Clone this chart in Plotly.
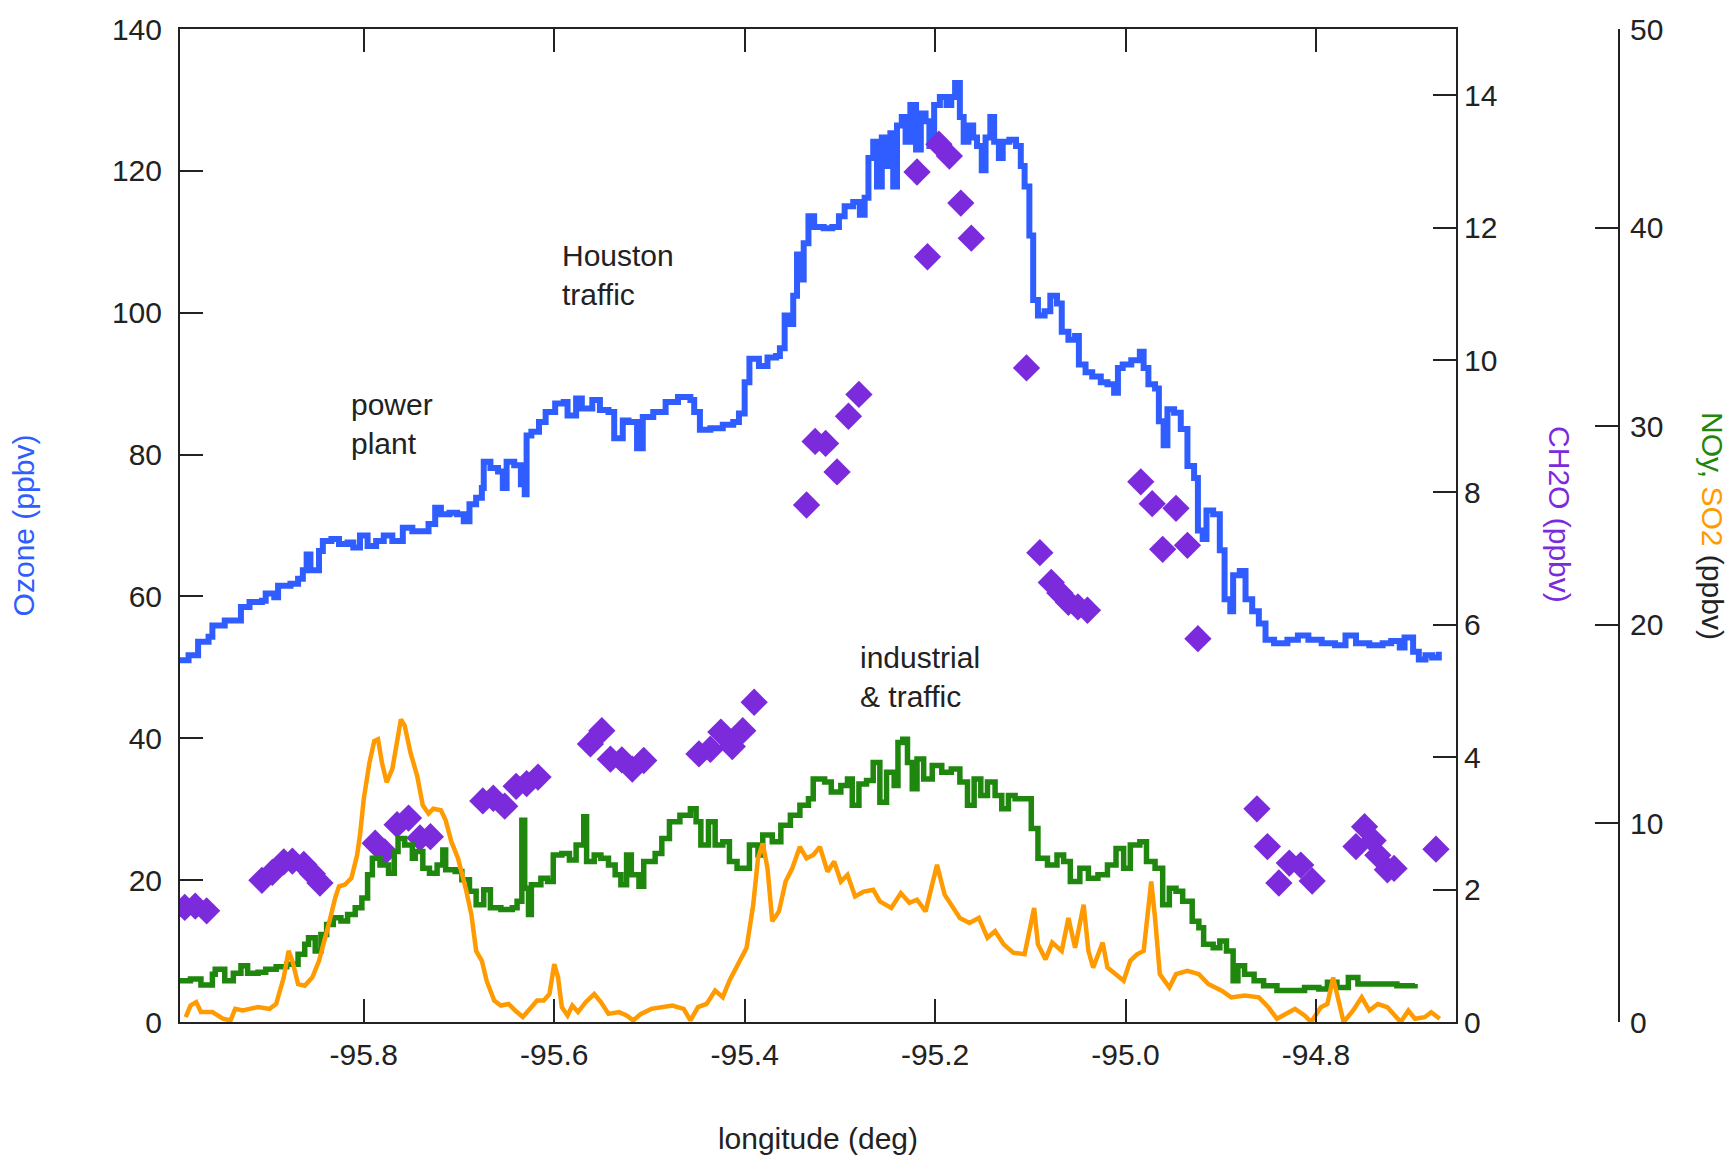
import plotly.graph_objects as go

# ---------------- data ----------------
oz_lon = [-95.993, -95.984, -95.974, -95.963, -95.959, -95.946, -95.933, -95.929, -95.920, -95.907,
          -95.903, -95.894, -95.890, -95.877, -95.869, -95.864, -95.860, -95.856, -95.847, -95.843,
          -95.834, -95.826, -95.817, -95.811, -95.804, -95.796, -95.787, -95.779, -95.770, -95.762,
          -95.759, -95.749, -95.740, -95.732, -95.725, -95.719, -95.710, -95.702, -95.695, -95.689,
          -95.682, -95.676, -95.674, -95.667, -95.659, -95.654, -95.650, -95.642, -95.635, -95.631,
          -95.629, -95.624, -95.616, -95.609, -95.599, -95.590, -95.586, -95.577, -95.571, -95.560,
          -95.552, -95.543, -95.537, -95.528, -95.522, -95.513, -95.507, -95.496, -95.483, -95.470,
          -95.457, -95.453, -95.447, -95.436, -95.423, -95.412, -95.406, -95.400, -95.395, -95.385,
          -95.376, -95.367,
          -95.363, -95.358, -95.354, -95.349, -95.345, -95.340, -95.338, -95.333, -95.327, -95.317,
          -95.308, -95.301, -95.295, -95.286, -95.279, -95.274, -95.270, -95.265, -95.261, -95.256,
          -95.251, -95.247, -95.244, -95.240, -95.235, -95.231, -95.226, -95.220, -95.215, -95.210,
          -95.206, -95.201, -95.195, -95.188, -95.183, -95.179, -95.174, -95.170, -95.165, -95.160,
          -95.156, -95.151, -95.147, -95.142, -95.138, -95.133, -95.129, -95.122, -95.115, -95.110,
          -95.106, -95.101, -95.097, -95.092, -95.085, -95.079, -95.072, -95.067, -95.060, -95.053,
          -95.049, -95.042, -95.035, -95.026, -95.019, -95.012, -95.008, -95.003, -94.994, -94.985,
          -94.981, -94.976, -94.969, -94.965, -94.960, -94.956, -94.949, -94.942, -94.935, -94.928,
          -94.924, -94.919, -94.915, -94.908, -94.901, -94.896, -94.890, -94.887, -94.880, -94.874,
          -94.867, -94.860, -94.853, -94.844, -94.830, -94.819, -94.808, -94.794, -94.780, -94.769,
          -94.758, -94.744, -94.730, -94.721, -94.712, -94.707, -94.698, -94.692, -94.685, -94.678,
          -94.671]
oz_val = [51.0, 51.7, 53.6, 54.3, 55.9, 56.6, 56.6, 58.5, 59.2, 59.4,
          60.4, 59.9, 61.5, 61.8, 62.5, 63.7, 65.9, 63.7, 66.4, 67.8,
          68.1, 67.4, 67.6, 66.9, 68.6, 67.1, 67.8, 68.6, 67.8, 67.8,
          69.7, 69.2, 69.2, 70.2, 72.5, 71.6, 71.8, 71.6, 70.6, 73.0,
          73.9, 75.3, 79.0, 78.1, 77.6, 75.3, 79.0, 78.5, 75.8, 74.4,
          82.7, 83.2, 84.6, 86.0, 87.2, 87.4, 85.5, 87.9, 86.5, 87.7,
          86.3, 86.0, 82.3, 84.8, 84.6, 80.9, 85.3, 86.0, 87.4, 88.1,
          87.7, 86.0, 83.5, 83.7, 84.2, 84.6, 85.8, 90.2, 93.5, 92.5,
          93.7, 93.9,
          95.0, 99.6, 98.4, 102.4, 108.2, 104.7, 109.8, 113.6, 112.1, 111.9,
          112.1, 113.6, 115.0, 115.6, 113.8, 116.2, 121.8, 124.1, 117.8, 124.7,
          120.7, 125.3, 117.8, 126.4, 127.6, 124.1, 129.3, 123.0, 128.1, 127.0,
          123.5, 129.3, 130.4, 129.3, 130.4, 132.4, 127.6, 124.1, 126.4, 124.7,
          123.5, 120.1, 124.7, 127.6, 124.1, 121.8, 124.1, 124.4, 123.5, 120.7,
          117.8, 110.9, 101.8, 99.6, 100.2, 102.4, 101.3, 97.3, 96.2, 96.7,
          92.7, 91.6, 91.0, 90.2, 89.9, 88.7, 92.2, 92.7, 93.3, 94.5,
          92.2, 89.9, 89.3, 84.7, 81.3, 86.4, 85.9, 83.6, 78.4, 76.7,
          69.3, 68.1, 72.1, 71.6, 66.5, 59.6, 57.9, 63.0, 63.6, 59.6,
          57.9, 56.2, 53.9, 53.4, 53.9, 54.5, 53.9, 53.4, 53.1, 54.5,
          53.4, 53.1, 53.4, 53.7, 52.8, 54.2, 52.2, 51.1, 51.7, 51.4,
          52.2]

noy_lon = [-95.993, -95.982, -95.971, -95.959, -95.956, -95.946, -95.937, -95.929, -95.922, -95.911,
           -95.903, -95.892, -95.881, -95.869, -95.862, -95.858, -95.851, -95.845, -95.839, -95.832,
           -95.824, -95.817, -95.809, -95.802, -95.796, -95.791, -95.783, -95.774, -95.768, -95.764,
           -95.757, -95.749, -95.746, -95.738, -95.731, -95.723, -95.717, -95.714, -95.704, -95.697,
           -95.689, -95.682, -95.674, -95.667, -95.656, -95.644, -95.639, -95.634, -95.631, -95.627,
           -95.624, -95.614, -95.607, -95.601, -95.592, -95.584, -95.577, -95.569, -95.566, -95.558,
           -95.551, -95.543, -95.536, -95.530, -95.524, -95.519, -95.511, -95.506, -95.494, -95.487,
           -95.479, -95.468, -95.457, -95.451, -95.446, -95.438, -95.431, -95.423, -95.416, -95.408,
           -95.405, -95.395, -95.386, -95.381, -95.371, -95.362, -95.352, -95.342, -95.333, -95.328,
           -95.316, -95.309, -95.299, -95.292, -95.287, -95.280, -95.272, -95.265, -95.258, -95.251,
           -95.243, -95.239, -95.234, -95.229, -95.224, -95.219, -95.212, -95.203, -95.193, -95.183,
           -95.174, -95.166, -95.159, -95.152, -95.145, -95.137, -95.130, -95.123, -95.116, -95.106,
           -95.099, -95.092, -95.082, -95.072, -95.065, -95.058, -95.048, -95.039, -95.029, -95.019,
           -95.010, -95.002, -94.995, -94.985, -94.978, -94.969, -94.961, -94.954, -94.947, -94.940,
           -94.930, -94.923, -94.918, -94.908, -94.901, -94.894, -94.887, -94.882, -94.875, -94.865,
           -94.855, -94.841, -94.826, -94.812, -94.797, -94.788, -94.778, -94.766, -94.756, -94.744,
           -94.730, -94.715, -94.696]
noy_val = [2.08, 2.16, 1.86, 2.41, 2.66, 2.08, 2.45, 2.83, 2.45, 2.50,
           2.66, 2.78, 2.91, 3.41, 3.91, 4.24, 3.58, 4.41, 4.91, 5.25,
           5.08, 5.41, 5.75, 6.25, 7.41, 8.24, 7.91, 7.49, 8.58, 9.24,
           8.91, 8.24, 8.58, 7.74, 7.49, 7.91, 8.66, 7.66, 7.58, 7.16,
           6.58, 5.91, 6.66, 5.75, 5.66, 5.75, 6.08, 10.16, 6.74, 5.41,
           6.91, 7.24, 7.08, 8.41, 8.49, 8.16, 8.91, 10.33, 8.08, 8.41,
           8.24, 7.91, 7.41, 6.91, 8.41, 7.41, 6.83, 8.08, 8.49, 9.24,
           10.08, 10.41, 10.74, 10.08, 8.91, 10.08, 8.91, 9.08, 8.08, 7.74,
           7.74, 8.91, 8.41, 9.41, 9.08, 9.91, 10.41, 10.91, 11.24, 12.24,
           12.08, 11.58, 11.91, 12.24, 10.91, 11.99, 12.16, 13.07, 11.07, 12.57,
           11.91, 14.07, 14.24, 13.07, 11.74, 13.24, 12.24, 12.91, 12.57, 12.74,
           12.08, 10.91, 12.24, 11.41, 12.08, 11.41, 10.74, 11.41, 11.24, 11.24,
           9.74, 8.24, 7.91, 8.41, 8.08, 7.07, 7.74, 7.24, 7.41, 7.91,
           8.74, 7.74, 8.91, 9.08, 8.08, 7.74, 5.91, 6.74, 6.58, 6.08,
           5.07, 4.74, 3.91, 3.74, 4.08, 3.58, 2.08, 2.83, 2.41, 2.08,
           1.83, 1.58, 1.58, 1.74, 1.66, 2.00, 1.74, 2.24, 1.91, 1.91,
           1.91, 1.83, 1.91]

so2_lon = [-95.987, -95.982, -95.976, -95.971, -95.959, -95.948, -95.940, -95.935, -95.927, -95.918,
           -95.911, -95.899, -95.892, -95.884, -95.879, -95.875, -95.869, -95.862, -95.854, -95.847,
           -95.841, -95.836, -95.830, -95.826, -95.820, -95.813, -95.807, -95.804, -95.800, -95.794,
           -95.789, -95.785, -95.781, -95.776, -95.770, -95.764, -95.761, -95.757, -95.751, -95.744,
           -95.738, -95.732, -95.727, -95.719, -95.714, -95.708, -95.701, -95.693, -95.687, -95.682,
           -95.676, -95.671, -95.663, -95.656, -95.648, -95.641, -95.633, -95.627, -95.618, -95.611,
           -95.605, -95.600, -95.596, -95.592, -95.586, -95.581, -95.575, -95.567, -95.558, -95.551,
           -95.543, -95.532, -95.524, -95.517, -95.509, -95.498, -95.487, -95.476, -95.464, -95.457,
           -95.449, -95.440, -95.431, -95.423, -95.416, -95.406,
           -95.398, -95.391, -95.386, -95.381, -95.376, -95.371, -95.364, -95.357, -95.350, -95.342,
           -95.335, -95.328, -95.321, -95.313, -95.306, -95.299, -95.292, -95.284, -95.275, -95.265,
           -95.258, -95.246, -95.236, -95.227, -95.219, -95.210, -95.203, -95.198, -95.190, -95.183,
           -95.174, -95.164, -95.154, -95.145, -95.137, -95.128, -95.118, -95.106, -95.096, -95.092,
           -95.084, -95.077, -95.067, -95.060, -95.053, -95.044, -95.039, -95.034, -95.024, -95.019,
           -95.010, -95.002, -94.995, -94.988, -94.981, -94.973, -94.969, -94.964, -94.954, -94.947,
           -94.935, -94.923, -94.913, -94.899, -94.889, -94.875, -94.860, -94.850, -94.841, -94.831,
           -94.822, -94.812, -94.805, -94.795, -94.788, -94.782, -94.776, -94.771, -94.761, -94.752,
           -94.744, -94.735, -94.725, -94.715, -94.711, -94.703, -94.696, -94.686, -94.679, -94.670]
so2_val = [0.25, 0.83, 1.00, 0.50, 0.50, 0.17, 0.08, 0.66, 0.58, 0.66,
           0.75, 0.66, 0.91, 2.25, 3.58, 3.08, 1.91, 1.83, 2.25, 3.08,
           4.08, 5.08, 6.25, 6.83, 6.91, 7.24, 8.41, 9.41, 11.24, 13.07,
           14.15, 14.24, 13.07, 12.07, 12.74, 14.57, 15.24, 14.91, 13.57, 12.41,
           10.91, 10.50, 10.74, 10.66, 10.16, 9.08, 8.24, 6.74, 5.41, 3.58,
           3.08, 2.08, 1.08, 0.83, 0.91, 0.58, 0.25, 0.58, 1.08, 1.08,
           1.41, 2.91, 2.25, 0.75, 0.33, 0.83, 0.50, 1.00, 1.41, 1.00,
           0.41, 0.50, 0.33, 0.08, 0.41, 0.66, 0.75, 0.83, 0.66, 0.08,
           0.75, 0.91, 1.58, 1.25, 2.08, 3.00,
           3.74, 5.91, 8.24, 8.99, 7.74, 5.07, 5.57, 7.07, 7.74, 8.82,
           8.24, 8.41, 8.82, 7.57, 8.08, 7.07, 7.41, 6.32, 6.57, 6.66,
           6.07, 5.74, 6.49, 6.00, 6.16, 5.57, 6.91, 7.91, 6.41, 5.91,
           5.24, 4.99, 5.24, 4.24, 4.57, 3.91, 3.49, 3.41, 5.74, 3.91,
           3.15, 4.00, 3.58, 5.24, 3.74, 5.91, 3.58, 2.74, 4.00, 2.74,
           2.41, 2.08, 3.08, 3.41, 3.58, 7.07, 5.24, 2.41, 1.74, 2.41,
           2.58, 2.41, 1.91, 1.58, 1.24, 1.33, 1.24, 0.74, 0.16, 0.41,
           0.66, 0.33, 0.00, 0.74, 0.91, 2.24, 0.91, 0.00, 0.58, 1.24,
           0.58, 0.91, 0.74, 0.24, 0.00, 0.58, 0.16, 0.24, 0.49, 0.16]

ch2o_lon = [-95.988, -95.977, -95.965,
            -95.907, -95.896, -95.884, -95.875, -95.863, -95.854, -95.846,
            -95.788, -95.778, -95.765, -95.753, -95.741, -95.730,
            -95.675, -95.664, -95.652, -95.640, -95.629, -95.617,
            -95.562, -95.550, -95.541, -95.529, -95.518, -95.506,
            -95.448, -95.436, -95.425, -95.413, -95.402, -95.390,
            -95.335, -95.326, -95.315, -95.303, -95.291, -95.280,
            -95.219, -95.208, -95.196, -95.185, -95.173, -95.162,
            -95.104, -95.090, -95.078, -95.069, -95.060, -95.050, -95.040,
            -94.984, -94.972, -94.961, -94.947, -94.935, -94.924,
            -94.862, -94.851, -94.839, -94.828, -94.816, -94.804,
            -94.758, -94.749, -94.740, -94.735, -94.725, -94.718,
            -94.674]
ch2o_val = [1.73, 1.75, 1.68,
            2.14, 2.26, 2.42, 2.43, 2.38, 2.24, 2.10,
            2.70, 2.57, 2.98, 3.08, 2.78, 2.80,
            3.34, 3.38, 3.26, 3.56, 3.60, 3.70,
            4.20, 4.40, 3.97, 3.96, 3.82, 3.95,
            4.05, 4.12, 4.38, 4.16, 4.40, 4.83,
            7.81, 8.77, 8.74, 8.31, 9.15, 9.48,
            12.84, 11.56, 13.26, 13.08, 12.37, 11.84,
            9.88, 7.09, 6.64, 6.48, 6.34, 6.27, 6.22,
            8.16, 7.83, 7.14, 7.76, 7.20, 5.79,
            3.22, 2.65, 2.10, 2.40, 2.37, 2.13,
            2.65, 2.95, 2.74, 2.52, 2.30, 2.32,
            2.61]

x_ticks = [-95.8, -95.6, -95.4, -95.2, -95.0, -94.8]
x_labels = ["-95.8", "-95.6", "-95.4", "-95.2", "-95.0", "-94.8"]
oz_ticks = [0, 20, 40, 60, 80, 100, 120, 140]
ch2o_ticks = [0, 2, 4, 6, 8, 10, 12, 14]
noy_ticks = [0, 10, 20, 30, 40, 50]

notes = [("Houston<br>traffic", -95.594, 105.3),
         ("power<br>plant", -95.816, 84.3),
         ("industrial<br>& traffic", -95.281, 48.7)]

# ---------------- style ----------------
FONT = "Liberation Sans, Arial, sans-serif"
INK = "#222222"
C_OZ = "#2F5DFF"
C_CH = "#7B2BDB"
C_NOY = "#1F870D"
C_SO2 = "#FF9A00"

fig = go.Figure()
fig.add_trace(go.Scatter(x=oz_lon, y=oz_val, mode="lines", name="Ozone",
                         line=dict(color=C_OZ, width=6, shape="hv"), yaxis="y"))
fig.add_trace(go.Scatter(x=noy_lon, y=noy_val, mode="lines", name="NOy",
                         line=dict(color=C_NOY, width=5.5, shape="hv"), yaxis="y3"))
fig.add_trace(go.Scatter(x=so2_lon, y=so2_val, mode="lines", name="SO2",
                         line=dict(color=C_SO2, width=4.5), yaxis="y3"))
fig.add_trace(go.Scatter(x=ch2o_lon, y=ch2o_val, mode="markers", name="CH2O",
                         marker=dict(symbol="diamond", size=21, color=C_CH), yaxis="y2"))

axis_common = dict(showgrid=False, zeroline=False, showline=True, linecolor=INK, linewidth=2,
                   ticks="inside", ticklen=23, tickwidth=1.5, tickcolor=INK,
                   tickfont=dict(family=FONT, size=30, color=INK))

fig.update_layout(
    width=1732, height=1162,
    margin=dict(l=180, r=113, t=24, b=137),
    paper_bgcolor="white", plot_bgcolor="white",
    showlegend=False,
    font=dict(family=FONT, size=30, color=INK),
    xaxis=dict(range=[-95.993, -94.653], domain=[0, 0.8867], tickmode="array",
               tickvals=x_ticks, ticktext=x_labels, mirror="ticks", ticklabelstandoff=5,
               title=dict(text="longitude (deg)", font=dict(family=FONT, size=30, color=INK), standoff=58),
               **axis_common),
    yaxis=dict(range=[0, 140], tickmode="array", tickvals=oz_ticks, side="left", ticklabelstandoff=10,
               title=dict(text="Ozone (ppbv)", font=dict(family=FONT, size=30, color=C_OZ), standoff=68),
               **axis_common),
    yaxis2=dict(range=[0, 15], tickmode="array", tickvals=ch2o_ticks, side="right",
                overlaying="y", anchor="x", **axis_common),
    yaxis3=dict(range=[0, 50], tickmode="array", tickvals=noy_ticks, side="right", ticklabelstandoff=4,
                overlaying="y", anchor="free", position=1.0, **axis_common),
)

for txt, lx, ly in notes:
    fig.add_annotation(text=txt, x=lx, y=ly, xref="x", yref="y", showarrow=False,
                       xanchor="left", yanchor="middle", align="left",
                       font=dict(family=FONT, size=30, color=INK))

fig.add_annotation(text="CH2O (ppbv)", x=0.959, y=0.5115, xref="paper", yref="paper",
                   showarrow=False, textangle=90, xanchor="center", yanchor="middle",
                   font=dict(family=FONT, size=30, color=C_CH))
fig.add_annotation(text=f"<span style='color:{C_NOY}'>NOy,</span> <span style='color:{C_SO2}'>SO2</span> (ppbv)",
                   x=1.0646, y=0.4995, xref="paper", yref="paper",
                   showarrow=False, textangle=90, xanchor="center", yanchor="middle",
                   font=dict(family=FONT, size=30, color=INK))

fig.write_html("out.html", config={"displayModeBar": False},
               post_script="document.body.style.margin='0';")
